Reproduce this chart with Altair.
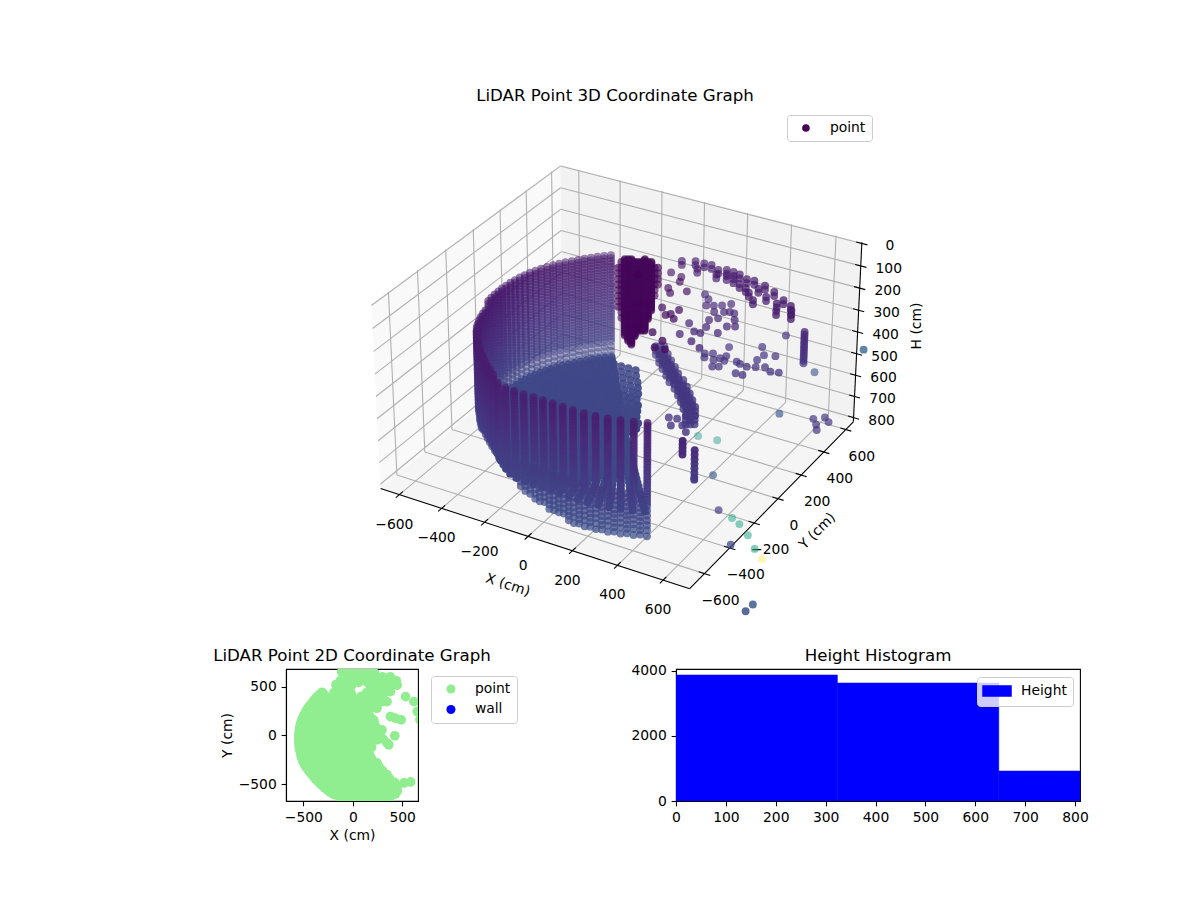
import math
import altair as alt
import pandas as pd

alt.data_transformers.disable_max_rows()

FONT = "DejaVu Sans"

# ---- LiDAR wall: polar reading of the contour, one entry per scan column
wall_angle = [125,128,131,134,137,140,143,146,149,152,155,158,161,164,167,170,173,176,179,182,185,188,191,194,197,200,203,206,209,212,215,218,221,224,227,230,233,236,239,242,245,248,252,256,260,264,268,272,276,280,284,288,292,296,300,304,308]
wall_range = [540,538,536,534,532,531,530,532,533,534,535,537,538,540,541,542,543,544,545,547,548,550,553,555,558,561,564,567,570,572,573,573,574,576,579,584,588,593,599,606,614,623,634,635,632,629,625,627,632,640,652,664,676,689,701,713,727]
wall_top = [215]*24 + [230]*18 + [250]*15
wall_bottom = [690]*24 + [650,630,610,595,590,594,598,601,605,609,605,598,590,584,581,580,582,586,594,620,655,687,712,725,736,746,755,755,755,760,760,760,760]
wall_levels = [215,228,241,254,267,280,293,306,319,332,345,358,371,384,397,410,423,436,449,462,475,488,501,514,527,540,553,566,579,592,605,618,640,662,684,706,728,755]

# ---- lower returns lying between the front columns
lower_angle = [254,258,262,266,270,274,278,282,286,290,294,298,302,306]
lower_range = [635,634,630,627,626,629,636,646,658,670,683,695,707,720]
lower_bottom = [600,640,670,700,720,730,740,750,755,755,755,757,760,760]
lower_levels = [570,590,610,630,650,670,690,710,730,750]

# ---- floor rings inside the wall
floor_height = 680
floor_fade = 1.8
floor_behind = 0.6
floor_ring = [0.92,0.88,0.84,0.80,0.76,0.72,0.68,0.64,0.60,0.56,0.52,0.48,0.44,0.40,0.36,0.32,0.28,0.24,0.20,0.16,0.12,0.08,0.04]
floor_ring_back = [0.96]
floor_fill_y = [380,340,300,260,220,180,140,100,60,20,-20,-60]
floor_fill_x = [
    [-260,-225,-190,-155],
    [-235,-200,-165,-130],
    [-205,-170,-135,-100],
    [-180,-145,-110,-75],
    [-150,-115,-80,-50],
    [-120,-90,-60,-34],
    [-95,-65,-35,-5],
    [-65,-35,-5,15],
    [-40,-10,20,35],
    [-15,15,45,65],
    [15,45,80],
    [30,60,90],
]

# ---- dense dark cluster behind the wall opening
cluster_x = [-279,-268,-256,-244,-232,-220,-208,-196,-184,-172,-161,-149,-137]
cluster_y = [449,456,463,470,476,483,490,497,503,510,517,524,530]
cluster_top = [245,226,226,226,226,232,240,232,226,232,240,250,260]
cluster_bottom = [470,520,580,610,626,590,553,553,553,510,470,410,350]
cluster_layers = [1,1,2,2,3,3,3,3,3,2,2,1,1]
cluster_every = [2,2,1,1,1,1,1,1,1,1,1,2,2]
cluster_shift = [0,5,9]
cluster_color = 50
cluster_fade = 1.3

# ---- scattered returns are a little stronger than the wall
stray_fade = 1.25

# ---- upper arc of far returns (two scan rows)
arc_x = [-46,4,42,44,77,121,133,151,176,184,213,216,254,260,292,293,321,339,365,350,398,407,460,471,518,487,553,537]
arc_y = [568,594,540,595,598,575,536,592,545,590,535,583,511,562,493,565,465,514,418,550,468,521,442,479,452,385,386,420]
arc_levels = [230,248]

# ---- scattered returns: x, y, height, colour value
near_x = [-100,-44,-29,36,-44,-17,15,72,85,58,102,82,150,192,150]
near_y = [575,561,522,465,452,420,298,268,313,251,239,103,1,9,63]
near_h = 300
near_c = 120
mid_x = [69,101,146,119,173,175,201,208,212,187,250,277,275,304,228,205,208,180,269,130,140,209,263]
mid_y = [560,531,495,480,449,512,542,468,410,380,478,431,369,385,480,324,270,269,304,317,222,194,163]
mid_h = 350
low_x = [194,223,208,250,266,280,255,291,294,271,338,358,392,378,408,425,403,458,493,409,372,453,526]
low_y = [336,352,307,307,332,360,430,323,271,258,341,332,326,258,260,340,394,358,338,442,497,458,348]
low_h = 480
chain_x = [-10,34,71,110,147,190,228,264,298,333,363]
chain_y = [328,279,241,203,164,129,90,50,10,-30,-88]
chain_levels = [500,520,540]
chain_shift_x = [0,15,-15]
chain_shift_y = [0,9,-9]
post_levels = [350,362,374,386,398,410,422,434,446,458,470,482,494]
post_x = [567]
post_y = [485]
col_a_levels = [350,365,380,395,410]
col_a = (548,-482)
col_b_levels = [410,430,450,470,490,510,530,540]
col_b = (573,-432)
patch_x = [216,253,249,292,329,301]
patch_y = [3,-46,12,-23,-60,26]
patch_h = 600
other_x = [460,528,873,648,678,699,684,713,510,244,327,439,580,652,697,762,829,736,885,996,993]
other_y = [533,671,393,429,395,359,462,437,397,198,208,-31,-243,-266,-290,-342,-412,-432,-459,-740,-791]
other_h = [420,640,300,700,700,700,700,700,700,780,780,780,780,780,780,780,780,780,780,780,780]
other_c = [420,850,1000,480,480,480,480,480,900,1700,1700,850,550,1900,1900,1900,1900,700,3200,900,800]
other_fade = [1.2,1.2,1.2,1.2,1.2,1.2,1.2,1.2,1.2,0.8,0.8,1,1,0.75,0.75,0.75,0.75,1,0.45,1,1]

# ---- extra plan-view returns for the 2D graph
plan_ring = [0.92]
plan_x = [-112,-129,-44,75,211,347,449,381,296,245,347,-61,143,245,347,211,109,7,-95,177,211,296,347,245,143,109,160,245,347,449,381,279,143,534,619,653,680,381,432,490,425,364,585,517,449,60,300,380,440,-50,40,130,220,300]
plan_y = [653,551,602,626,609,585,517,449,347,279,347,500,551,534,500,432,364,330,398,296,160,58,-78,-44,194,-44,-180,-282,-418,-554,-588,-520,-384,398,347,245,160,194,177,160,-3,-95,-476,-486,-520,545,600,600,560,640,640,640,640,590]
plan_fill_y = [600,520,440,360,280,200,120,40,-40,-120,-200,-280,-360,-440,-520,-600,-650]
plan_fill_x = [
    [-50,40,130,220],
    [-170,-80,-10,170,260,350,440],
    [-190,-100,-20,140,230,320],
    [-230,-140,-50,40,130,220,300],
    [-200,-110,-20,70,160,180],
    [-100,-10,80,170],
    [-20,70,160,220],
    [40,130,220,260],
    [60,150,240,310],
    [60,130,190],
    [60,120,170],
    [50,140,240],
    [50,140,230,300],
    [50,140,230,320,370],
    [50,140,230,320,410,440],
    [-130,-40,50,140,230,320,410,430],
    [-130,-40,50,140,230,320,370],
]

# ---- histogram
hist_start = [0,323.6,647.2]
hist_end = [323.6,647.2,970.8]
hist_count = [3877,3630,923]

# ---- 3D axes
x_ticks = [-600,-400,-200,0,200,400,600]
y_ticks = [-600,-400,-200,0,200,400,600]
h_ticks = [0,100,200,300,400,500,600,700,800]
X0, X1 = -690, 715
Y0, Y1 = -715, 670
H0, H1 = -5, 820

ELEV, AZIM, DIST = math.radians(30), math.radians(-60), 10.0
BOX_A, BOX_H = 0.616, 0.367
SCALE, CX, CY = 2860.0, 621.5, 365.3
PANEL_L, PANEL_R, PANEL_T, PANEL_B = 8, 1192, 104, 640

w = (math.cos(ELEV)*math.cos(AZIM), math.cos(ELEV)*math.sin(AZIM), math.sin(ELEV))
ul = math.hypot(w[0], w[1])
u = (-w[1]/ul, w[0]/ul, 0.0)
v = (w[1]*u[2]-w[2]*u[1], w[2]*u[0]-w[0]*u[2], w[0]*u[1]-w[1]*u[0])


def project(x, y, h):
    qx = (x-(X0+X1)/2)/(X1-X0)*2*BOX_A
    qy = (y-(Y0+Y1)/2)/(Y1-Y0)*2*BOX_A
    qz = ((H0+H1)/2-h)/(H1-H0)*2*BOX_H
    xc = u[0]*qx+u[1]*qy
    yc = v[0]*qx+v[1]*qy+v[2]*qz
    zc = w[0]*qx+w[1]*qy+w[2]*qz
    d = DIST-zc
    return xc/d, yc/d, zc


# ---- build the point table: x, y, height, colour value, fade, draw-order shift
pts = []
plan = []
for ang, rng, top, bot in zip(wall_angle, wall_range, wall_top, wall_bottom):
    cx = rng*math.cos(math.radians(ang))
    cy = rng*math.sin(math.radians(ang))
    plan.append((cx, cy))
    for h in wall_levels:
        if top <= h <= bot:
            pts.append((cx, cy, h, h, 1, 0))
    rings = floor_ring + (floor_ring_back if ang < 200 else [])
    for f in rings:
        pts.append((cx*f, cy*f, floor_height, floor_height, floor_fade, floor_behind))
        plan.append((cx*f, cy*f))
    for f in plan_ring:
        plan.append((cx*f, cy*f))
for ang, rng, bot in zip(lower_angle, lower_range, lower_bottom):
    cx = rng*math.cos(math.radians(ang))
    cy = rng*math.sin(math.radians(ang))
    for h in lower_levels:
        if h <= bot:
            pts.append((cx, cy, h, h, 1, 0))
for y, xs in zip(floor_fill_y, floor_fill_x):
    for x in xs:
        pts.append((x, y, floor_height, floor_height, floor_fade, floor_behind))
        plan.append((x, y))
for x, y, top, bot, lay, every in zip(cluster_x, cluster_y, cluster_top, cluster_bottom, cluster_layers, cluster_every):
    for h in wall_levels[::every]:
        if top <= h <= bot:
            for s in cluster_shift[:lay]:
                pts.append((x, y, h+s, cluster_color, cluster_fade, 0))
for x, y in zip(arc_x, arc_y):
    for h in arc_levels:
        pts.append((x, y, h, h, stray_fade, 0))
for x, y in zip(near_x, near_y):
    pts.append((x, y, near_h, near_c, stray_fade, 0))
for x, y in zip(mid_x, mid_y):
    pts.append((x, y, mid_h, mid_h, stray_fade, 0))
for x, y in zip(low_x, low_y):
    pts.append((x, y, low_h, low_h, stray_fade, 0))
for x, y in zip(chain_x, chain_y):
    for sx_, sy_ in zip(chain_shift_x, chain_shift_y):
        for h in chain_levels:
            pts.append((x+sx_, y+sy_, h, h, stray_fade, 0))
for x, y in zip(post_x, post_y):
    for h in post_levels:
        pts.append((x, y, h, h, stray_fade, 0))
for h in col_a_levels:
    pts.append((col_a[0], col_a[1], h, h, stray_fade, 0))
for h in col_b_levels:
    pts.append((col_b[0], col_b[1], h, h, stray_fade, 0))
for x, y in zip(patch_x, patch_y):
    pts.append((x, y, patch_h, 450, stray_fade, 0))
for x, y, h, c, f in zip(other_x, other_y, other_h, other_c, other_fade):
    pts.append((x, y, h, c, f, 0))

rows = []
for x, y, h, c, f, b in pts:
    vx, vy, near = project(x, y, h)
    rows.append({"vx": vx, "vy": vy, "near": near, "draw": near-b, "val": c, "fade": f})
rows.sort(key=lambda r: r["draw"])
nlo = min(r["near"] for r in rows)
nhi = max(r["near"] for r in rows)
for r in rows:
    r["shade"] = min(1.0, (0.85-0.4*(nhi-r["near"])/(nhi-nlo))*r["fade"])
points_df = pd.DataFrame(rows)

sx_scale = alt.Scale(domain=[(PANEL_L-CX)/SCALE, (PANEL_R-CX)/SCALE], nice=False, zero=False)
sy_scale = alt.Scale(domain=[(CY-PANEL_B)/SCALE, (CY-PANEL_T)/SCALE], nice=False, zero=False)
enc_x = alt.X("vx:Q", scale=sx_scale, axis=None)
enc_y = alt.Y("vy:Q", scale=sy_scale, axis=None)


def band(vertices, name):
    out = []
    pv = [project(*p)[:2] for p in vertices]
    for xq in sorted({p[0] for p in pv}):
        hits = []
        for i in range(len(pv)):
            a, b = pv[i], pv[(i+1) % len(pv)]
            lo, hi = min(a[0], b[0]), max(a[0], b[0])
            if lo <= xq <= hi:
                if a[0] == b[0]:
                    hits += [a[1], b[1]]
                else:
                    hits.append(a[1]+(xq-a[0])/(b[0]-a[0])*(b[1]-a[1]))
        out.append({"vx": xq, "vy": max(hits), "vy2": min(hits), "pane": name})
    return out


pane_rows = (
    band([(X0,Y0,H0),(X0,Y1,H0),(X0,Y1,H1),(X0,Y0,H1)], "left")
    + band([(X0,Y1,H0),(X1,Y1,H0),(X1,Y1,H1),(X0,Y1,H1)], "back")
    + band([(X0,Y0,H1),(X1,Y0,H1),(X1,Y1,H1),(X0,Y1,H1)], "floor")
)
panes = alt.Chart(pd.DataFrame(pane_rows)).mark_area(interpolate="linear").encode(
    x=enc_x, y=enc_y, y2=alt.Y2("vy2:Q"),
    color=alt.Color("pane:N", legend=None, scale=alt.Scale(domain=["left","back","floor"], range=["#f9f9f9","#f2f2f2","#f5f5f5"])),
)


def seg(a, b):
    pa, pb = project(*a), project(*b)
    return {"vx": pa[0], "vy": pa[1], "vx2": pb[0], "vy2": pb[1]}


grid_rows = []
for t in x_ticks:
    grid_rows += [seg((t,Y0,H1),(t,Y1,H1)), seg((t,Y1,H1),(t,Y1,H0))]
for t in y_ticks:
    grid_rows += [seg((X1,t,H1),(X0,t,H1)), seg((X0,t,H1),(X0,t,H0))]
for t in h_ticks:
    grid_rows += [seg((X0,Y0,t),(X0,Y1,t)), seg((X0,Y1,t),(X1,Y1,t))]
axis_rows = [seg((X0,Y0,H1),(X1,Y0,H1)), seg((X1,Y0,H1),(X1,Y1,H1)), seg((X1,Y1,H1),(X1,Y1,H0))]
for t in x_ticks:
    axis_rows.append(seg((t,Y0-25,H1),(t,Y0+25,H1)))
for t in y_ticks:
    axis_rows.append(seg((X1-25,t,H1),(X1+25,t,H1)))
for t in h_ticks:
    axis_rows.append(seg((X1-25,Y1,t),(X1+25,Y1,t)))


def rules(data, colour, width):
    return alt.Chart(pd.DataFrame(data)).mark_rule(color=colour, strokeWidth=width).encode(
        x=enc_x, y=enc_y, x2=alt.X2("vx2:Q"), y2=alt.Y2("vy2:Q"))


def tlabel(t):
    return str(t).replace("-", "\u2212")


def texts(data, off, **kw):
    rowsd = []
    for (pos, lab) in data:
        p = project(*pos)
        rowsd.append({"vx": p[0]+off[0]/SCALE, "vy": p[1]-off[1]/SCALE, "label": lab})
    return alt.Chart(pd.DataFrame(rowsd)).mark_text(font=FONT, fontSize=13.89, color="black", **kw).encode(
        x=enc_x, y=enc_y, text="label:N")


x_labels = texts([((t,Y0,H1), tlabel(t)) for t in x_ticks], (-5, 30))
y_labels = texts([((X1,t,H1), tlabel(t)) for t in y_ticks], (16, 27))
h_labels = texts([((X1,Y1,t), tlabel(t)) for t in h_ticks], (28, 3))
x_title = texts([((12,Y0,H1), "X (cm)")], (-23, 48), angle=18)
y_title = texts([((X1,-22,H1), "Y (cm)")], (42, 30), angle=315)
h_title = texts([((X1,Y1,400), "H (cm)")], (59, -6), angle=270)

cloud = alt.Chart(points_df).mark_circle(size=62).encode(
    x=enc_x, y=enc_y,
    color=alt.Color("val:Q", legend=None, scale=alt.Scale(scheme="viridis", domain=[0, 3200], nice=False, zero=False)),
    opacity=alt.Opacity("shade:Q", legend=None, scale=None),
)

lp = project(cluster_x[6], cluster_y[6], 300)
legend_common = dict(
    title=None, orient="none", labelFont=FONT, labelFontSize=13.89, labelColor="black",
    strokeColor="#cccccc", cornerRadius=3, fillColor="rgba(255,255,255,0.8)",
)
point_key = alt.Chart(pd.DataFrame({"vx":[lp[0]], "vy":[lp[1]], "series":["point"]})).mark_circle(size=50, opacity=1).encode(
    x=enc_x, y=enc_y,
    color=alt.Color("series:N", scale=alt.Scale(domain=["point"], range=["#440154"]),
                    legend=alt.Legend(legendX=779, legendY=11, padding=6, symbolOffset=6, labelOffset=17, symbolSize=58, **legend_common)),
)

TITLE = dict(fontSize=16.67, font=FONT, fontWeight="normal", color="black")
top = alt.layer(
    panes, rules(grid_rows, "#b0b0b0", 1.1), rules(axis_rows, "black", 1.1),
    x_labels, y_labels, h_labels, x_title, y_title, h_title, cloud, point_key,
).resolve_scale(color="independent").properties(
    width=PANEL_R-PANEL_L, height=PANEL_B-PANEL_T,
    title=alt.TitleParams("LiDAR Point 3D Coordinate Graph", dx=15, offset=-1, **TITLE),
)

# ---- 2D panel
plan += list(zip(plan_x, plan_y))
for y, xs in zip(plan_fill_y, plan_fill_x):
    plan += [(x, y) for x in xs]
    plan += [((a+b)/2, y+40) for a, b in zip(xs, xs[1:]) if b-a <= 100]
plan_df = pd.DataFrame({"X": [p[0] for p in plan], "Y": [p[1] for p in plan], "series": ["point"]*len(plan)})
scatter2d = alt.Chart(plan_df).mark_circle(size=95, opacity=1, clip=True).encode(
    x=alt.X("X:Q", title="X (cm)", scale=alt.Scale(domain=[-676, 660], nice=False, zero=False), axis=alt.Axis(values=[-500,0,500], grid=False, labelFlush=False)),
    y=alt.Y("Y:Q", title="Y (cm)", scale=alt.Scale(domain=[-671, 681], nice=False, zero=False), axis=alt.Axis(values=[-500,0,500], grid=False, labelFlush=False)),
    color=alt.Color("series:N", scale=alt.Scale(domain=["point","wall"], range=["lightgreen","blue"]),
                    legend=alt.Legend(legendX=145, legendY=7, padding=6, rowPadding=5.5, symbolOffset=7, labelOffset=17, symbolSize=81, **legend_common)),
).properties(
    width=132, height=132, view=alt.ViewConfig(stroke="black", strokeWidth=1.1),
    title=alt.TitleParams("LiDAR Point 2D Coordinate Graph", offset=4, **TITLE),
)

# ---- histogram
hist_df = pd.DataFrame({"start": hist_start, "end": hist_end, "count": hist_count, "base": [0]*3, "series": ["Height"]*3})
hist = alt.Chart(hist_df).mark_bar(clip=True, stroke="blue", strokeWidth=0.5).encode(
    x=alt.X("start:Q", title=None, scale=alt.Scale(domain=[0, 810], nice=False, zero=False), axis=alt.Axis(values=[0,100,200,300,400,500,600,700,800], grid=False, labelFlush=False)),
    x2=alt.X2("end:Q"),
    y=alt.Y("count:Q", title=None, scale=alt.Scale(domain=[0, 4060], nice=False, zero=False), axis=alt.Axis(values=[0,2000,4000], grid=False, format="d", labelFlush=False)),
    y2=alt.Y2("base:Q"),
    color=alt.Color("series:N", scale=alt.Scale(domain=["Height"], range=["blue"]),
                    legend=alt.Legend(legendX=301, legendY=8, padding=6, symbolType="M-2,-0.72H2V0.72H-2Z", symbolSize=196, symbolOffset=6, labelOffset=16, **legend_common)),
).properties(
    width=404, height=132, view=alt.ViewConfig(stroke="black", strokeWidth=1.1),
    title=alt.TitleParams("Height Histogram", offset=-1, **TITLE),
)


def spacer(width):
    return alt.Chart(pd.DataFrame({"a":[0]})).mark_point(opacity=0).encode(
        x=alt.X("a:Q", axis=None), y=alt.Y("a:Q", axis=None)
    ).properties(width=width, height=132)


row = alt.hconcat(spacer(199), scatter2d, spacer(101), hist, spacing=5).resolve_scale(color="independent")

chart = alt.vconcat(top, row, spacing=7).resolve_scale(color="independent").properties(
    padding={"left": 0, "top": 80, "right": 0, "bottom": 0},
).configure_view(stroke=None).configure_axis(
    domainColor="black", tickColor="black", labelColor="black", titleColor="black",
    tickSize=4.86, tickWidth=1.1, domainWidth=1.1, labelFont=FONT, titleFont=FONT,
    labelFontSize=13.89, titleFontSize=13.89, titleFontWeight="normal", labelPadding=4.86, titlePadding=4,
)

chart.save("out.html", embed_options={"renderer": "svg", "actions": False})
